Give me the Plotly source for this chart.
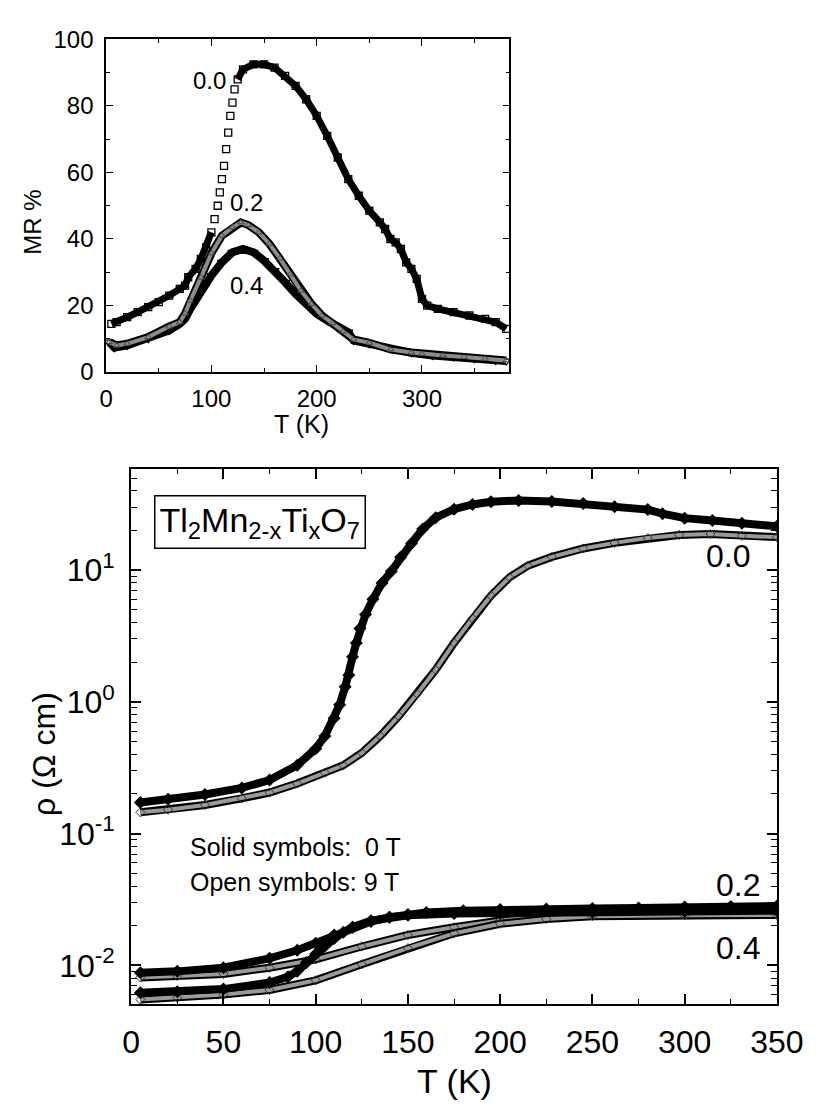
import plotly.graph_objects as go

# ---------------- MR % (upper panel) ----------------
t_mr_00 = [5, 10, 20, 30, 40, 50, 60, 70, 75, 78, 85, 90, 95, 100, 103, 106, 108, 110, 112, 114,
           116, 118, 120, 122, 125, 130, 140, 150, 160, 170, 180, 190, 200, 210, 220, 230, 240,
           250, 260, 265, 270, 275, 280, 285, 290, 295, 300, 305, 315, 330, 345, 360, 370, 380]
mr_00 = [14.5, 15, 16.5, 18, 19.5, 21, 23, 25, 26, 28.5, 31, 34, 37.5, 42, 46, 50, 54, 58, 62, 67,
         72, 77, 81, 85, 88, 91, 92.5, 92.5, 91.5, 89, 86, 82, 77, 71, 64.5, 58, 53,
         48.5, 45, 43, 40, 39, 37, 33, 31, 28, 22, 20, 19, 18, 17, 16, 15, 13]

t_mr_02 = [3, 10, 20, 40, 60, 70, 75, 80, 90, 100, 110, 120, 128, 135, 145, 155, 165, 175, 185,
           195, 205, 215, 225, 235, 250, 270, 290, 300, 320, 340, 360, 380]
mr_02 = [9, 8, 8.5, 10.5, 13.7, 15, 17.6, 21.5, 28.4, 35.7, 41, 43.5, 45, 44.2, 42, 38.6, 34.2, 29.4, 24.5,
         20.5, 17, 14.7, 12.2, 9.8, 8.8, 6.8, 5.9, 5.5, 5, 4.5, 4, 3.5]

t_mr_04 = [3, 8, 20, 40, 60, 70, 75, 80, 90, 100, 110, 120, 130, 140, 150, 160, 170, 180, 190,
           200, 210, 220, 230, 235, 250, 270, 290, 310, 330, 350, 370, 380]
mr_04 = [9, 7.3, 8, 10, 12.5, 14.5, 16, 19, 24.5, 29, 33, 36, 37, 36, 33.5, 30.5, 27, 23.5, 20.5,
         17.5, 15.5, 13.5, 12, 9.5, 8.5, 7, 5.8, 5, 4.5, 4, 3.5, 3.3]

# ---------------- resistivity (lower panel) ----------------
t_r00_0T = [5, 20, 40, 60, 75, 90, 100, 105, 110, 113, 116, 118, 120, 122, 124, 127, 131, 136, 141,
            146, 152, 158, 165, 175, 185, 195, 210, 228, 245, 262, 280, 288, 300, 315, 331, 350]
r00_0T = [0.172, 0.182, 0.198, 0.222, 0.255, 0.33, 0.44, 0.55, 0.75, 0.95, 1.3, 1.6, 2.2, 2.8, 3.6, 4.6,
          6.0, 8.0, 9.8, 12.5, 16, 20.5, 25, 29, 31.5, 33, 33.8, 33.2, 32, 30.3, 28.8, 26.8, 24.8,
          23.8, 22.7, 21.5]

t_r00_9T = [5, 20, 40, 60, 75, 90, 105, 115, 125, 135, 145, 155, 165, 175, 185, 195, 205, 215, 228,
            245, 262, 280, 297, 314, 331, 350]
r00_9T = [0.145, 0.152, 0.165, 0.185, 0.205, 0.24, 0.29, 0.33, 0.41, 0.55, 0.78, 1.15, 1.75, 2.8, 4.3,
          6.4, 8.8, 10.8, 12.6, 14.6, 16.1, 17.5, 18.5, 18.8, 18.2, 17.8]

t_r02_0T = [5, 25, 50, 75, 90, 100, 110, 120, 130, 140, 150, 160, 180, 200, 225, 250, 275, 300, 325, 350]
r02_0T = [0.0088, 0.0090, 0.0096, 0.0113, 0.013, 0.0147, 0.017, 0.0195, 0.0215, 0.0232, 0.0243,
          0.0252, 0.026, 0.0265, 0.0268, 0.027, 0.0273, 0.0277, 0.028, 0.0282]

t_r04_0T = [5, 25, 50, 75, 85, 90, 95, 100, 105, 110, 115, 120, 130, 140, 150, 175, 200, 250, 300, 350]
r04_0T = [0.0062, 0.0063, 0.0066, 0.0074, 0.0082, 0.0090, 0.0105, 0.0122, 0.0140, 0.016, 0.0178,
          0.0195, 0.0218, 0.0232, 0.024, 0.0247, 0.025, 0.0253, 0.0257, 0.026]

t_r02_9T = [5, 25, 50, 75, 100, 125, 150, 175, 200, 225, 250, 300, 350]
r02_9T = [0.0081, 0.0083, 0.0086, 0.0096, 0.0111, 0.0139, 0.017, 0.0195, 0.0219, 0.0234, 0.0245,
          0.0256, 0.0264]

t_r04_9T = [5, 25, 50, 75, 100, 125, 150, 175, 200, 225, 250, 300, 350]
r04_9T = [0.0055, 0.0057, 0.006, 0.0065, 0.0077, 0.0102, 0.0135, 0.0175, 0.0207, 0.0225, 0.0236,
          0.024, 0.0241]

log_ticks = [0.01, 0.1, 1, 10]
log_tick_text = ["10<sup>-2</sup>", "10<sup>-1</sup>", "10<sup>0</sup>", "10<sup>1</sup>"]

W, H = 831, 1111
FONT = "Liberation Sans, Arial, sans-serif"


def fx(p):
    return p / W


def fy(p):
    return 1 - p / H


fig = go.Figure()

# upper panel: x = 0.0 open squares; the steep rise shows separate symbols, elsewhere a dense band
band_00 = [m if (t <= 100 or t >= 124) else None for t, m in zip(t_mr_00, mr_00)]
fig.add_trace(go.Scatter(x=t_mr_00, y=band_00, mode="lines", xaxis="x", yaxis="y",
                         connectgaps=False, line=dict(color="black", width=7)))
fig.add_trace(go.Scatter(x=t_mr_00, y=mr_00, mode="markers", xaxis="x", yaxis="y",
                         marker=dict(symbol="square-open", size=7, color="black", line=dict(width=1.3))))

# x = 0.4 (down triangles) and x = 0.2 (up triangles)
fig.add_trace(go.Scatter(x=t_mr_04, y=mr_04, mode="lines+markers", xaxis="x", yaxis="y",
                         line=dict(color="black", width=8),
                         marker=dict(symbol="triangle-down-open", size=8, color="black", line=dict(width=1.2))))
fig.add_trace(go.Scatter(x=t_mr_02, y=mr_02, mode="lines", xaxis="x", yaxis="y",
                         line=dict(color="black", width=8)))
fig.add_trace(go.Scatter(x=t_mr_02, y=mr_02, mode="lines+markers", xaxis="x", yaxis="y",
                         line=dict(color="#8c8c8c", width=4),
                         marker=dict(symbol="triangle-up-open", size=6, color="#444", line=dict(width=1))))

# lower panel: open symbols (9 T) drawn as hollow bands
for t, r in [(t_r00_9T, r00_9T), (t_r02_9T, r02_9T), (t_r04_9T, r04_9T)]:
    fig.add_trace(go.Scatter(x=t, y=r, mode="lines", xaxis="x2", yaxis="y2",
                             line=dict(color="black", width=8)))
    fig.add_trace(go.Scatter(x=t, y=r, mode="lines+markers", xaxis="x2", yaxis="y2",
                             line=dict(color="#9a9a9a", width=4),
                             marker=dict(symbol="diamond-open", size=7, color="#333", line=dict(width=1))))

# lower panel: solid symbols (0 T)
for t, r in [(t_r00_0T, r00_0T), (t_r02_0T, r02_0T), (t_r04_0T, r04_0T)]:
    fig.add_trace(go.Scatter(x=t, y=r, mode="lines+markers", xaxis="x2", yaxis="y2",
                             line=dict(color="black", width=8),
                             marker=dict(symbol="diamond", size=10, color="black")))

axis_common = dict(showline=True, linecolor="black", mirror="allticks", ticks="inside",
                   tickcolor="black", showgrid=False, zeroline=False)

minor_log = []
for dec in [0.001, 0.01, 0.1, 1, 10]:
    for k in range(2, 10):
        minor_log.append(dec * k)

fig.update_layout(
    width=W, height=H, margin=dict(l=0, r=0, t=0, b=0),
    paper_bgcolor="white", plot_bgcolor="white", showlegend=False,
    font=dict(family=FONT, color="black"),
    xaxis=dict(domain=[fx(101.5), fx(523)], anchor="y", range=[0, 383],
               tickvals=[0, 100, 200, 300], ticklen=7, tickwidth=1.3, linewidth=1.5,
               minor=dict(tickvals=[50, 150, 250, 350], ticklen=4, tickwidth=1.2, ticks="inside"),
               tickfont=dict(size=24, family=FONT), ticklabelstandoff=4, **axis_common),
    yaxis=dict(domain=[fy(367), fy(26)], anchor="x", range=[0, 100],
               tickvals=[0, 20, 40, 60, 80, 100], ticklen=7, tickwidth=1.3, linewidth=1.5,
               minor=dict(tickvals=[10, 30, 50, 70, 90], ticklen=4, tickwidth=1.2, ticks="inside"),
               tickfont=dict(size=24, family=FONT), ticklabelstandoff=6, **axis_common),
    xaxis2=dict(domain=[fx(127.7), fx(802.7)], anchor="y2", range=[0, 350],
                tickvals=[0, 50, 100, 150, 200, 250, 300, 350], ticklen=10, tickwidth=1.5, linewidth=2,
                minor=dict(tickvals=[25, 75, 125, 175, 225, 275, 325], ticklen=5, tickwidth=1.3,
                           ticks="inside"),
                tickfont=dict(size=32, family=FONT), ticklabelstandoff=8, **axis_common),
    yaxis2=dict(domain=[fy(1015), fy(466)], anchor="x2", type="log",
                range=[-2.296, 1.770], tickvals=log_ticks, ticktext=log_tick_text,
                ticklen=10, tickwidth=1.5, linewidth=2,
                minor=dict(tickvals=minor_log, ticklen=6, tickwidth=1.3, ticks="inside"),
                tickfont=dict(size=32, family=FONT), ticklabelstandoff=8, **axis_common),
)

# axis titles
fig.add_annotation(text="MR %", xref="paper", yref="paper", x=fx(25), y=fy(213), textangle=-90,
                   showarrow=False, font=dict(size=24, family=FONT), xanchor="center", yanchor="middle")
fig.add_annotation(text="T (K)", xref="paper", yref="paper", x=fx(306), y=fy(420),
                   showarrow=False, font=dict(size=25, family=FONT), xanchor="center", yanchor="middle")
fig.add_annotation(text="T (K)", xref="paper", yref="paper", x=fx(466), y=fy(1094),
                   showarrow=False, font=dict(size=34, family=FONT), xanchor="center", yanchor="middle")
fig.add_annotation(text="ρ (Ω cm)", xref="paper", yref="paper", x=fx(36), y=fy(758), textangle=-90,
                   showarrow=False, font=dict(size=32, family=FONT), xanchor="center", yanchor="middle")

# curve labels, upper panel
for txt, xp, yp in [("0.0", 210, 68), ("0.2", 248, 193), ("0.4", 248, 278)]:
    fig.add_annotation(text=txt, xref="paper", yref="paper", x=fx(xp), y=fy(yp), showarrow=False,
                       font=dict(size=24, family=FONT), xanchor="center", yanchor="middle")

# curve labels, lower panel
for txt, xp, yp in [("0.0", 752, 556), ("0.2", 762, 893), ("0.4", 762, 957)]:
    fig.add_annotation(text=txt, xref="paper", yref="paper", x=fx(xp), y=fy(yp), showarrow=False,
                       font=dict(size=32, family=FONT), xanchor="center", yanchor="middle")

fig.add_annotation(text="Solid symbols:  0 T", xref="paper", yref="paper", x=fx(187), y=fy(854),
                   showarrow=False, font=dict(size=25, family=FONT), xanchor="left", yanchor="middle")
fig.add_annotation(text="Open symbols: 9 T", xref="paper", yref="paper", x=fx(187), y=fy(890),
                   showarrow=False, font=dict(size=25, family=FONT), xanchor="left", yanchor="middle")

# compound formula box
fig.add_annotation(text="Tl<sub>2</sub>Mn<sub>2-x</sub>Ti<sub>x</sub>O<sub>7</sub>",
                   xref="paper", yref="paper", x=fx(152), y=fy(493), xanchor="left", yanchor="top",
                   showarrow=False, font=dict(size=34, family=FONT),
                   bordercolor="black", borderwidth=1.5, borderpad=4, bgcolor="white")

fig.write_html("out.html")
